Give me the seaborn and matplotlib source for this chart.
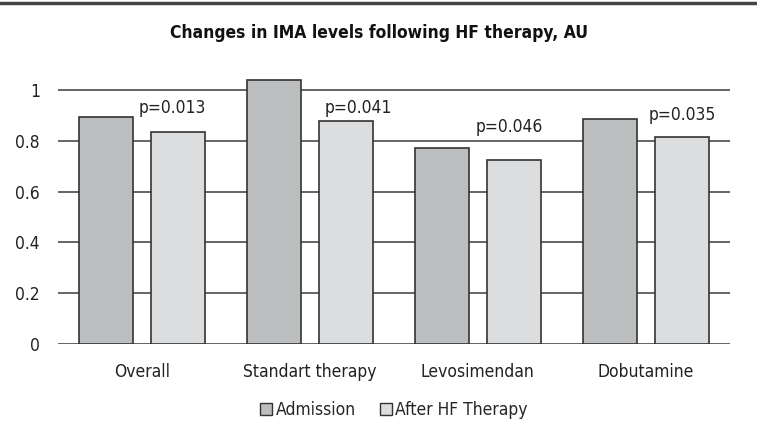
import matplotlib
matplotlib.use("Agg")
import matplotlib.pyplot as plt
from matplotlib.lines import Line2D
import seaborn as sns
import pandas as pd

categories = ["Overall", "Standart therapy", "Levosimendan", "Dobutamine"]
admission = [0.892, 1.039, 0.773, 0.885]
after_hf = [0.833, 0.879, 0.724, 0.814]
p_labels = ["p=0.013", "p=0.041", "p=0.046", "p=0.035"]
series = ["Admission", "After HF Therapy"]

df = pd.DataFrame({
    "group": categories * 2,
    "series": [series[0]] * 4 + [series[1]] * 4,
    "value": admission + after_hf,
})

sns.set_theme(style="white")
plt.rcParams["font.family"] = ["DejaVu Sans"]
plt.rcParams["font.stretch"] = "condensed"

fig = plt.figure(figsize=(7.57, 4.38), dpi=100)
ax = fig.add_axes([0.0766, 0.2146, 0.8874, 0.638])

sns.barplot(data=df, x="group", y="value", hue="series", order=categories,
            hue_order=series, palette={"Admission": "#bcbdbe", "After HF Therapy": "#dcdddf"},
            width=0.852, gap=0.246, edgecolor="#333333", linewidth=1.2, ax=ax, zorder=3)

ax.set_ylim(0, 1.1)
ax.set_xlim(-0.5, 3.5)
ax.set_yticks([0, 0.2, 0.4, 0.6, 0.8, 1.0])
ax.set_yticklabels(["0", "0.2", "0.4", "0.6", "0.8", "1"])
ax.yaxis.grid(True, color="#3a3a3a", linewidth=1.1, zorder=0)
ax.set_axisbelow(True)
for s in ax.spines.values():
    s.set_visible(False)
ax.set_xlabel("")
ax.set_ylabel("")
ax.tick_params(axis="both", length=0, labelsize=12.5, colors="#222222")
ax.tick_params(axis="x", pad=14)
ax.tick_params(axis="y", pad=13)

# p-value labels above the second bar of each group
label_y = [0.93, 0.93, 0.855, 0.90]
label_dx = [0.18, 0.29, 0.19, 0.22]
for i, (txt, yy, dx) in enumerate(zip(p_labels, label_y, label_dx)):
    ax.text(i + dx, yy, txt, ha="center", va="center", fontsize=12.5, color="#222222")

fig.text(0.5, 0.925, "Changes in IMA levels following HF therapy, AU",
         ha="center", va="center", fontsize=12.5, fontweight="bold", color="#111111")

leg = ax.legend(loc="center", bbox_to_anchor=(0.5, -0.236), frameon=False,
                ncol=2, fontsize=12.5, handlelength=0.7, handleheight=0.7,
                handletextpad=0.2, columnspacing=1.4)
for h in leg.legend_handles:
    h.set_edgecolor("#333333")
    h.set_linewidth(1.0)

fig.add_artist(Line2D([0, 1], [0.994, 0.994], transform=fig.transFigure,
                      color="#444444", linewidth=2.5))

fig.savefig("out.png", dpi=100)
